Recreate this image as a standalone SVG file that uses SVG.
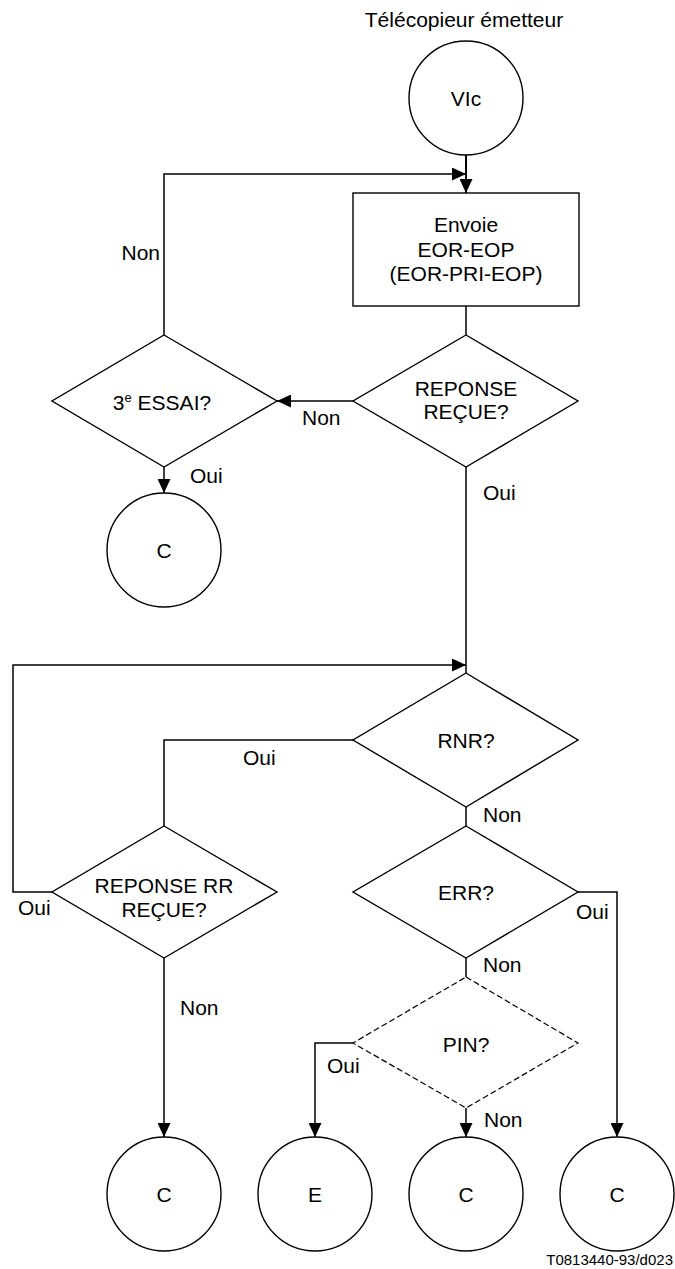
<svg xmlns="http://www.w3.org/2000/svg" width="675" height="1269" viewBox="0 0 675 1269">
<style>
text{font-family:"Liberation Sans",Arial,sans-serif;font-size:21px;fill:#000}
.c{text-anchor:middle}
.e{text-anchor:end}
.shape{fill:#fff;stroke:#000;stroke-width:1.4}
.dash{fill:#fff;stroke:#000;stroke-width:1.2;stroke-dasharray:6,3}
.ln{fill:none;stroke:#000;stroke-width:1.5}
.ft{font-size:15px;text-anchor:end}
</style>
<defs>
<marker id="ar" markerWidth="14" markerHeight="13" refX="14" refY="6.5" orient="auto" markerUnits="userSpaceOnUse">
<path d="M0,0 L14,6.5 L0,13 Z" fill="#000"/>
</marker>
</defs>
<rect width="675" height="1269" fill="#fff"/>
<text x="464" y="27" class="c">Télécopieur émetteur</text>
<g id="connectors">
<path class="ln" d="M466,155 V193" marker-end="url(#ar)" style="stroke-width:2"/>
<path class="ln" d="M164,335 V174 H466" marker-end="url(#ar)"/>
<path class="ln" d="M466,306 V335"/>
<path class="ln" d="M353,401 H277" marker-end="url(#ar)"/>
<path class="ln" d="M164,467 V493" marker-end="url(#ar)"/>
<path class="ln" d="M466,467 V673"/>
<path class="ln" d="M52,892 H13 V665 H466" marker-end="url(#ar)"/>
<path class="ln" d="M353,740 H164 V826"/>
<path class="ln" d="M466,807 V826"/>
<path class="ln" d="M578,892 H617 V1137" marker-end="url(#ar)"/>
<path class="ln" d="M466,958 V977"/>
<path class="ln" d="M353,1043 H315 V1137" marker-end="url(#ar)"/>
<path class="ln" d="M466,1108 V1137" marker-end="url(#ar)"/>
<path class="ln" d="M164,958 V1137" marker-end="url(#ar)"/>
<text x="160" y="260" class="e">Non</text>
<text x="302" y="425">Non</text>
<text x="190" y="483">Oui</text>
<text x="483" y="500">Oui</text>
<text x="243" y="765">Oui</text>
<text x="483" y="822">Non</text>
<text x="576" y="919">Oui</text>
<text x="18" y="915">Oui</text>
<text x="483" y="972">Non</text>
<text x="327" y="1073">Oui</text>
<text x="484" y="1127">Non</text>
<text x="180" y="1015">Non</text>
</g>
<g id="n-vic">
<circle class="shape" cx="466" cy="98" r="57"/>
<text x="466" y="106" class="c">VIc</text>
</g>
<g id="n-envoie">
<rect class="shape" x="353" y="193" width="226" height="113"/>
<text x="466" y="232" class="c">Envoie</text>
<text x="466" y="257" class="c">EOR-EOP</text>
<text x="466" y="281" class="c">(EOR-PRI-EOP)</text>
</g>
<g id="n-essai">
<polygon class="shape" points="164,335 277,401 164,467 52,401"/>
<text x="162" y="410" class="c">3<tspan font-size="13" dy="-8">e</tspan><tspan dy="8"> ESSAI?</tspan></text>
</g>
<g id="n-reponse">
<polygon class="shape" points="466,335 578,401 466,467 353,401"/>
<text x="466" y="396" class="c">REPONSE</text>
<text x="466" y="419" class="c">REÇUE?</text>
</g>
<g id="n-c1">
<circle class="shape" cx="164" cy="550" r="57"/>
<text x="164" y="558" class="c">C</text>
</g>
<g id="n-rnr">
<polygon class="shape" points="466,673 578,740 466,807 353,740"/>
<text x="466" y="748" class="c">RNR?</text>
</g>
<g id="n-rr">
<polygon class="shape" points="164,826 277,892 164,958 52,892"/>
<text x="164" y="893" class="c">REPONSE RR</text>
<text x="164" y="917" class="c">REÇUE?</text>
</g>
<g id="n-err">
<polygon class="shape" points="466,826 578,892 466,958 353,892"/>
<text x="466" y="900" class="c">ERR?</text>
</g>
<g id="n-pin">
<polygon class="dash" points="466,977 578,1043 466,1108 353,1043"/>
<text x="466" y="1052" class="c">PIN?</text>
</g>
<g id="n-c2">
<circle class="shape" cx="164" cy="1194" r="57"/>
<text x="164" y="1202" class="c">C</text>
</g>
<g id="n-e">
<circle class="shape" cx="315" cy="1194" r="57"/>
<text x="315" y="1202" class="c">E</text>
</g>
<g id="n-c3">
<circle class="shape" cx="466" cy="1194" r="57"/>
<text x="466" y="1202" class="c">C</text>
</g>
<g id="n-c4">
<circle class="shape" cx="617" cy="1194" r="57"/>
<text x="617" y="1202" class="c">C</text>
</g>
<text x="673" y="1265" class="ft">T0813440-93/d023</text>
</svg>
